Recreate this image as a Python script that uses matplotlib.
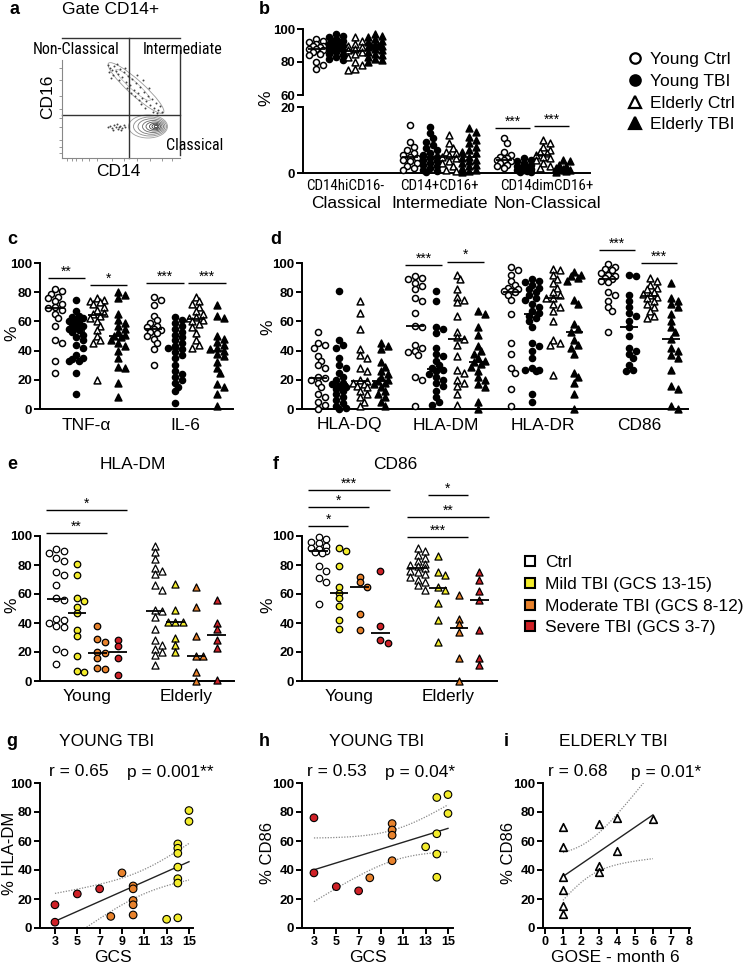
import numpy as np
import matplotlib
matplotlib.use("Agg")
import matplotlib.pyplot as plt
from matplotlib.patches import Ellipse
from matplotlib.lines import Line2D
from matplotlib import font_manager
from matplotlib.font_manager import FontProperties

plt.rcParams['font.family'] = ['Liberation Sans', 'DejaVu Sans']


def _find_condensed():
    prefs = [('liberation sans narrow', 12.5), ('arial narrow', 12.5), ('roboto condensed', 12.0),
             ('open sans condensed', 11.5), ('noto sans', 11.8), ('open sans', 11.5),
             ('roboto', 12.0), ('dejavu sans', 11.0)]
    best = None
    for f in font_manager.fontManager.ttflist:
        nm = f.name.lower()
        st = str(f.stretch).lower()
        is_cond = ('narrow' in nm or 'condensed' in nm or st in ('condensed', 'semi-condensed', '75', '87.5'))
        if not is_cond or f.style != 'normal':
            continue
        if str(f.weight) not in ('400', 'normal', 'regular', 'book'):
            continue
        fn = f.fname.lower()
        if 'bold' in fn or 'italic' in fn or 'light' in fn or 'medium' in fn or 'semi' in fn.split('/')[-1].replace('semicondensed', ''):
            continue
        for rank, (key, size) in enumerate(prefs):
            if nm.startswith(key):
                if best is None or rank < best[0]:
                    best = (rank, f.fname, size)
                break
    if best is None:
        return None, 9.6
    return best[1], best[2]


_cond_path, NARROW_SIZE = _find_condensed()


def narrow_fp(size):
    if _cond_path:
        return FontProperties(fname=_cond_path, size=size)
    return FontProperties(family='Liberation Sans', size=size * 0.78)


# ---------------- DATA ----------------
# panel a (illustrative flow plot, intensity units)
flow_cd14 = [46, 48, 50, 47, 52, 54, 56, 51, 58, 60, 57, 62, 64, 66, 68, 70, 65, 72, 74, 76, 78, 73, 80, 82,
             84, 79, 86, 88, 90, 92, 94, 96, 98, 100, 83, 77, 69, 63, 55, 49, 75, 87, 91, 95, 81,
             48, 50, 52, 54, 56, 58, 60, 62, 51, 55, 59, 46, 63, 57]
flow_cd16 = [93, 90, 88, 86, 92, 87, 84, 83, 89, 81, 78, 86, 76, 82, 73, 79, 70, 68, 75, 65, 71, 62, 60, 66,
             57, 54, 62, 53, 59, 50, 55, 48, 52, 46, 50, 58, 65, 90, 94, 80, 83, 70, 46, 45, 78,
             32, 30, 33, 31, 29, 32, 30, 33, 28, 34, 28, 31, 31, 31]
gate_cd14 = 67
gate_cd16 = 43
classical_cx = [86, 88, 89.5, 91, 92, 93, 93.5, 94]
classical_cy = 31.5
classical_w = [39, 33, 27, 21, 16, 11, 7, 3.5]
classical_h = [23, 19, 15.5, 12, 9, 6.5, 4.5, 2.5]

# panel b
b_groups = ["Classical", "Intermediate", "Non-Classical"]
b_markers = ["CD14hiCD16-", "CD14+CD16+", "CD14dimCD16+"]
series_names = ["Young Ctrl", "Young TBI", "Elderly Ctrl", "Elderly TBI"]
b_classical = [
    [94, 93, 92, 91, 90, 90, 89, 88, 88, 87, 86, 85, 84, 80, 78, 76],
    [97, 96, 95, 94, 93, 93, 92, 91, 91, 90, 90, 89, 89, 88, 88, 87, 86, 85, 84, 83, 82, 81],
    [95, 93, 91, 90, 89, 88, 87, 86, 85, 83, 80, 78, 76, 75],
    [97, 96, 95, 94, 93, 92, 91, 90, 90, 90, 89, 88, 87, 86, 85, 84, 83, 82, 81, 80],
]
b_intermediate = [
    [14.5, 9.5, 8, 7, 6, 5.5, 5, 4.5, 4, 3.5, 3, 2, 1.5, 1],
    [14, 12, 10.5, 9.5, 8.5, 7.5, 7, 6, 5.5, 5, 4.5, 4, 3.5, 3, 2.5, 2, 1.5, 1, 0.5, 0.3],
    [11.5, 9, 7.5, 6.5, 6, 5.5, 5, 4.5, 3.5, 3, 2, 1, 0.5],
    [13.5, 12.5, 11, 10, 9, 8, 7, 6.5, 6, 5, 4.5, 4, 3.5, 3, 2.5, 2, 1.5, 1, 0.5, 0.2],
]
b_nonclassical = [
    [10.5, 9, 6.5, 5.5, 5, 4.5, 4, 4, 3.5, 3, 2.5, 2, 1.5],
    [4.5, 4, 3.5, 3, 2.5, 2, 1.8, 1.5, 1.3, 1, 0.8, 0.6, 0.4, 0.2],
    [10, 9, 8, 7, 6.5, 6, 5.5, 5, 4.5, 4, 3, 2, 1.5],
    [4, 3.5, 2.5, 2, 1.5, 1.2, 1, 0.8, 0.5, 0.3],
]
b_sig = [(2, 0, 13.6, "***"), (2, 2, 14.2, "***")]  # (group, first series of pair, y, label)

# panel c
c_cats = ["TNF-α", "IL-6"]
c_tnf = [
    [82, 81, 79, 77, 76, 74, 72, 70, 69, 68, 65, 62, 57, 47, 45, 33, 25],
    [75, 67, 64, 63, 62, 61, 60, 59, 58, 57, 56, 55, 54, 53, 51, 49, 47, 44, 42, 37, 35, 34, 33, 33, 25, 10],
    [76, 75, 74, 73, 72, 70, 68, 66, 65, 64, 62, 60, 57, 54, 50, 47, 45, 20],
    [80, 78, 76, 65, 61, 59, 57, 55, 53, 51, 50, 49, 47, 45, 43, 40, 35, 29, 28, 18, 8],
]
c_il6 = [
    [77, 75, 71, 64, 61, 59, 57, 56, 55, 54, 53, 52, 50, 48, 45, 41, 30],
    [63, 61, 59, 57, 55, 53, 51, 49, 47, 45, 43, 42, 41, 39, 37, 35, 30, 26, 24, 22, 20, 18, 15, 12, 4],
    [77, 74, 72, 70, 67, 65, 63, 62, 61, 60, 58, 56, 52, 47, 44, 42],
    [71, 64, 62, 50, 48, 46, 44, 42, 41, 40, 38, 36, 32, 28, 25, 17, 15, 10, 2],
]
c_sig = [(0, 0, 90, "**"), (0, 2, 85, "*"), (1, 0, 86, "***"), (1, 2, 86, "***")]

# panel d
d_cats = ["HLA-DQ", "HLA-DM", "HLA-DR", "CD86"]
d_dq = [
    [53, 45, 44, 42, 36, 33, 30, 28, 22, 21, 20, 18, 15, 10, 8, 5, 3, 0],
    [81, 47, 44, 42, 35, 30, 28, 25, 22, 20, 18, 17, 16, 15, 14, 12, 10, 8, 6, 4, 2, 1, 0],
    [74, 66, 55, 41, 37, 35, 28, 26, 20, 19, 18, 17, 16, 15, 12, 10, 8, 5, 2],
    [45, 43, 41, 32, 29, 26, 24, 22, 20, 19, 18, 17, 15, 12, 10, 8, 5, 2],
]
d_dm = [
    [91, 90, 89, 86, 84, 82, 76, 74, 66, 57, 56, 44, 42, 40, 39, 37, 22, 20, 2],
    [81, 74, 56, 55, 52, 42, 38, 36, 33, 30, 28, 27, 26, 24, 22, 20, 18, 16, 12, 8, 5, 3],
    [92, 89, 82, 77, 75, 73, 64, 53, 49, 48, 44, 36, 27, 25, 20, 18, 16, 10, 3],
    [67, 65, 56, 51, 43, 40, 38, 35, 33, 32, 31, 29, 26, 22, 20, 17, 15, 5, 0],
]
d_dr = [
    [97, 95, 92, 88, 85, 83, 82, 81, 81, 80, 78, 75, 65, 45, 38, 28, 25, 14, 2],
    [89, 88, 87, 85, 83, 82, 80, 78, 76, 75, 72, 70, 67, 66, 64, 62, 60, 56, 45, 43, 40, 35, 28, 27, 27, 26, 10, 5],
    [96, 95, 92, 89, 86, 83, 80, 78, 76, 76, 72, 70, 67, 60, 47, 45, 44, 23],
    [94, 92, 91, 90, 88, 75, 72, 58, 55, 53, 47, 44, 42, 38, 25, 22, 18, 10, 0],
]
d_cd86 = [
    [99, 97, 96, 95, 93, 92, 91, 90, 89, 88, 87, 80, 78, 74, 70, 67, 53],
    [92, 91, 78, 74, 70, 66, 64, 60, 56, 50, 42, 40, 38, 35, 30, 27, 26],
    [90, 88, 85, 83, 82, 80, 79, 78, 77, 76, 74, 72, 70, 67, 64, 62],
    [86, 76, 74, 72, 70, 65, 60, 56, 53, 48, 42, 40, 37, 35, 27, 16, 14, 2, 0],
]
d_sig = [(1, 0, 98.6, "***"), (1, 2, 101, "*"), (3, 0, 109, "***"), (3, 2, 100, "***")]

# panels e, f  (order: Ctrl, Mild, Moderate, Severe)
sev_names = ["Ctrl", "Mild TBI (GCS 13-15)", "Moderate TBI (GCS 8-12)", "Severe TBI (GCS 3-7)"]
age_cats = ["Young", "Elderly"]
e_young = [
    [91, 90, 88, 85, 83, 75, 73, 66, 57, 56, 43, 42, 40, 38, 37, 22, 20, 12],
    [81, 73, 57, 55, 51, 47, 35, 31, 17, 7, 6],
    [38, 29, 27, 20, 19, 16, 9, 8],
    [28, 24, 16, 4],
]
e_elderly = [
    [93, 89, 84, 78, 76, 74, 66, 63, 49, 48, 44, 36, 28, 25, 22, 20, 18, 11],
    [67, 49, 41, 41, 41, 30, 25, 20],
    [65, 51, 31, 17, 17, 6, 0],
    [56, 40, 36, 28, 23, 1],
]
f_young = [
    [99, 98, 96, 95, 93, 92, 91, 90, 89, 88, 79, 76, 71, 68, 53],
    [92, 90, 79, 65, 61, 57, 52, 42, 36],
    [72, 68, 65, 46, 35],
    [76, 38, 28, 26],
]
f_elderly = [
    [92, 90, 87, 85, 83, 81, 80, 79, 78, 76, 75, 74, 72, 70, 68, 66, 63],
    [86, 75, 73, 65, 63, 54, 42, 27],
    [59, 43, 39, 34, 16, 0],
    [75, 70, 62, 56, 35, 16, 11],
]
# (age index, from group, to group, y, label)
e_sig = [(0, 0, 3, 118, "*"), (0, 0, 2, 102, "**")]
f_sig = [(0, 0, 3, 132, "***"), (0, 0, 2, 120, "*"), (0, 0, 1, 107, "*"),
         (1, 1, 2, 128, "*"), (1, 0, 3, 113, "**"), (1, 0, 2, 99, "***")]

# panels g, h, i
g_gcs = [3, 3, 5, 7, 8, 9, 10, 10, 10, 10, 10, 13, 14, 14, 14, 14, 14, 14, 14, 15, 15]
g_hladm = [16, 4, 23.5, 27, 8, 38, 29, 27, 19, 16, 9, 6, 58, 55, 51.5, 42, 34, 31, 7, 81, 73.5]
h_gcs = [3, 3, 5, 7, 8, 10, 10, 10, 10, 13, 14, 14, 14, 14, 15, 15]
h_cd86 = [76, 38, 28.5, 25.6, 34.6, 72, 67.6, 64, 46.4, 56, 90, 65, 51, 35, 92, 79]
i_gose = [1, 1, 1, 1, 1, 1, 3, 3, 3, 4, 4, 6]
i_cd86 = [70, 55.7, 35.3, 26.5, 15.2, 10, 72, 43, 38.8, 75.8, 53.3, 75.3]
T95 = {10: 2.228, 14: 2.145, 19: 2.093}

COL_CTRL = "white"
COL_MILD = "#F3EC2B"
COL_MOD = "#E8822C"
COL_SEV = "#CF2127"
sev_colors = [COL_CTRL, COL_MILD, COL_MOD, COL_SEV]

# ---------------- FIGURE ----------------
W, H = 744, 965
fig = plt.figure(figsize=(W / 100, H / 100), dpi=100)


def add_ax(x0, y0, x1, y1):
    return fig.add_axes([x0 / W, 1 - y1 / H, (x1 - x0) / W, (y1 - y0) / H])


def ftext(x, y, s, **kw):
    kw.setdefault('ha', 'center')
    kw.setdefault('va', 'center')
    return fig.text(x / W, 1 - y / H, s, **kw)


def style(ax, yticks=(0, 20, 40, 60, 80, 100), bottom=True):
    ax.spines['top'].set_visible(False)
    ax.spines['right'].set_visible(False)
    ax.spines['left'].set_linewidth(1.4)
    ax.spines['bottom'].set_linewidth(1.4)
    if not bottom:
        ax.spines['bottom'].set_visible(False)
    ax.set_yticks(list(yticks))
    ax.set_yticklabels([str(t) for t in yticks], fontweight='bold', fontsize=9.5)
    ax.tick_params(axis='y', direction='out', length=4, width=1.4, pad=1.5)
    ax.tick_params(axis='x', length=0)
    ax.set_xticks([])
    ax.patch.set_alpha(0)


def swarm_x(ax, xc, vals, d=7.0, sep=0.8, maxoff=9.0):
    vals = np.asarray(vals, float)
    pts = ax.transData.transform(np.column_stack([np.full(len(vals), xc), vals]))
    px0 = pts[0, 0]
    py = pts[:, 1]
    order = np.argsort(-vals, kind='stable')
    step = d * 0.5
    cands = [0.0]
    k = 1
    while k * step <= maxoff + 1e-9:
        cands += [k * step, -k * step]
        k += 1
    placed = []
    offs = np.zeros(len(vals))
    for i in order:
        chosen, best, bestd = None, 0.0, -1.0
        for c in cands:
            if placed:
                mind = min(np.hypot(c - ox, py[i] - oy) for ox, oy in placed)
            else:
                mind = np.inf
            if mind >= d * sep:
                chosen = c
                break
            if mind > bestd:
                bestd, best = mind, c
        if chosen is None:
            chosen = best
        offs[i] = chosen
        placed.append((chosen, py[i]))
    xs = ax.transData.inverted().transform(np.column_stack([px0 + offs, py]))[:, 0]
    return xs


def dots(ax, xc, vals, marker, fc, s, lw=1.0, half=0.42, d=7.0, maxoff=9.0):
    xs = swarm_x(ax, xc, vals, d=d, maxoff=maxoff)
    ax.scatter(xs, vals, marker=marker, s=s, facecolors=fc, edgecolors='black',
               linewidths=lw, zorder=3, clip_on=False)
    ax.plot([xc - half, xc + half], [np.median(vals)] * 2, color='black', lw=1.3, zorder=4,
            solid_capstyle='butt')


def sig(ax, x0, x1, y, txt, fs=10):
    ax.plot([x0, x1], [y, y], color='black', lw=1.0, clip_on=False, solid_capstyle='butt')
    ax.annotate(txt, xy=((x0 + x1) / 2, y), xytext=(0, -0.5), textcoords='offset points',
                ha='center', va='bottom', fontsize=fs, annotation_clip=False)


def cat_label(ax, x, txt, dy_px, **kw):
    if 'fontproperties' not in kw:
        kw.setdefault('fontsize', 12.5)
    ax.annotate(txt, xy=(x, 0), xycoords=('data', 'axes fraction'), xytext=(0, -dy_px * 0.72),
                textcoords='offset points', ha='center', va='center', annotation_clip=False, **kw)


SERIES_STYLE = [('o', 'white', 19), ('o', 'black', 19), ('^', 'white', 24), ('^', 'black', 24)]

# ---- panel a ----
ftext(14, 9, "a", fontweight='bold', fontsize=13)
ftext(111, 9, "Gate CD14+", fontsize=12.5)
axa = add_ax(62, 38, 180, 158)
axa.set_xlim(0, 118)
axa.set_ylim(0, 120)
axa.patch.set_alpha(0)
for s_ in ('top', 'right'):
    axa.spines[s_].set_visible(False)
for s_ in ('left', 'bottom'):
    axa.spines[s_].set_color('#888888')
    axa.spines[s_].set_linewidth(0.8)
axa.spines['left'].set_bounds(0, 98)
axa.set_xticks([5, 10, 14, 20, 27, 35, 50, 62, 75, 88, 100, 110])
axa.set_yticks([5, 11, 18, 31, 40, 49, 62, 78, 90])
axa.tick_params(length=2, width=0.6, color='#888888', labelbottom=False, labelleft=False)
for k, (cx, w, h) in enumerate(zip(classical_cx, classical_w, classical_h)):
    shade = 0.62 - 0.07 * k
    axa.add_patch(Ellipse((cx, classical_cy), w, h, fill=False, ec=str(max(shade, 0.1)), lw=0.6))
axa.add_patch(Ellipse((74, 70), 74, 15, angle=-42, fill=False, ec='#9a9a9a', lw=0.6))
axa.add_patch(Ellipse((71, 73), 46, 8, angle=-42, fill=False, ec='#b0b0b0', lw=0.5))
axa.scatter(flow_cd14, flow_cd16, s=2, c='#444444', lw=0)
kl = dict(color='#333333', lw=1.0, clip_on=False)
axa.plot([gate_cd14, gate_cd14], [0, 120], **kl)
axa.plot([0, 118], [gate_cd16, gate_cd16], **kl)
axa.plot([0, 118], [120, 120], **kl)
axa.plot([118, 118], [3, 108], **kl)
a_fp = narrow_fp(NARROW_SIZE - 0.5)
ftext(76, 50, "Non-Classical", fontproperties=a_fp)
ftext(183, 50, "Intermediate", fontproperties=a_fp)
ftext(195, 146, "Classical", fontproperties=a_fp)
ftext(48, 97, "CD16", fontsize=12.5, rotation=90)
ftext(118, 172, "CD14", fontsize=12.5)

# ---- panel b ----
ftext(264, 9, "b", fontweight='bold', fontsize=13)
b_pos = [0, 4.8, 9.6]
b_label_shift = [0, 0, 0.7]
axu = add_ax(303, 29, 590, 95)
axl = add_ax(303, 107, 590, 173)
for ax_ in (axu, axl):
    ax_.set_xlim(-0.68, 14.0)
axu.set_ylim(60, 100)
axl.set_ylim(0, 20)
style(axu, (60, 80, 100), bottom=False)
style(axl, (0, 20))
for j, (m, fc, s) in enumerate(SERIES_STYLE):
    dots(axu, b_pos[0] + j, b_classical[j], m, fc, s, lw=1.1)
    dots(axl, b_pos[1] + j, b_intermediate[j], m, fc, s, lw=1.1)
    dots(axl, b_pos[2] + j, b_nonclassical[j], m, fc, s, lw=1.1)
for gi, pj, y, t in b_sig:
    sig(axl, b_pos[gi] + pj - 0.45, b_pos[gi] + pj + 1 + 0.35, y, t)
b_fp = narrow_fp(NARROW_SIZE * 0.9)
for gi in range(3):
    cx = b_pos[gi] + 1.5 + b_label_shift[gi]
    cat_label(axl, cx, b_markers[gi], 13, fontproperties=b_fp)
    cat_label(axl, cx, b_groups[gi], 30)
ftext(266, 98, "%", fontsize=12.5, rotation=90)
handles = [Line2D([], [], ls='none', marker=m, markersize=7.5 if m == 'o' else 8.5,
                  markerfacecolor=fc, markeredgecolor='black', markeredgewidth=1.6)
           for (m, fc, s) in SERIES_STYLE]
fig.legend(handles, series_names, loc='upper left', bbox_to_anchor=(627 / W, 1 - 52 / H),
           frameon=False, fontsize=12.5, handlelength=0.9, handletextpad=0.4,
           labelspacing=0.38, borderaxespad=0, borderpad=0)

# ---- panel c ----
ftext(12, 240, "c", fontweight='bold', fontsize=13)
c_pos = [0, 4.7]
axc = add_ax(40, 263, 233, 409)
axc.set_xlim(-0.71, 8.48)
axc.set_ylim(0, 100)
style(axc)
for gi, gdata in enumerate([c_tnf, c_il6]):
    for j, (m, fc, s) in enumerate(SERIES_STYLE):
        dots(axc, c_pos[gi] + j, gdata[j], m, fc, s, lw=1.1)
    cat_label(axc, c_pos[gi] + 1.5, c_cats[gi], 16)
for gi, pj, y, t in c_sig:
    sig(axc, c_pos[gi] + pj - 0.35, c_pos[gi] + pj + 1 + 0.45, y, t)
ftext(12, 333, "%", fontsize=12.5, rotation=90)

# ---- panel d ----
ftext(276, 240, "d", fontweight='bold', fontsize=13)
d_pos = [0, 4.6, 9.2, 13.8]
axd = add_ax(302, 263, 688, 409)
axd.set_xlim(-0.76, 17.6)
axd.set_ylim(0, 100)
style(axd)
for gi, gdata in enumerate([d_dq, d_dm, d_dr, d_cd86]):
    for j, (m, fc, s) in enumerate(SERIES_STYLE):
        dots(axd, d_pos[gi] + j, gdata[j], m, fc, s, lw=1.1)
    cat_label(axd, d_pos[gi] + 1.5, d_cats[gi], 16)
for gi, pj, y, t in d_sig:
    sig(axd, d_pos[gi] + pj - 0.45, d_pos[gi] + pj + 1 + 0.3, y, t)
ftext(268, 327, "%", fontsize=12.5, rotation=90)

# ---- panels e, f ----
ef_pos = [0, 4.8]
panels_ef = [
    ("e", 12, 133, "HLA-DM", (40, 536, 234, 681), [e_young, e_elderly], e_sig, 12),
    ("f", 276, 395, "CD86", (302, 536, 497, 681), [f_young, f_elderly], f_sig, 268),
]
for letter, lx, tx, title, box, datas, sigs, plx in panels_ef:
    ftext(lx, 465, letter, fontweight='bold', fontsize=13)
    ftext(tx, 465, title, fontsize=12.5)
    ax = add_ax(*box)
    ax.set_xlim(-0.8, 8.65)
    ax.set_ylim(0, 100)
    style(ax)
    for ai, gdata in enumerate(datas):
        m = 'o' if ai == 0 else '^'
        s = 22 if ai == 0 else 26
        for j in range(4):
            dots(ax, ef_pos[ai] + j, gdata[j], m, sev_colors[j], s, lw=0.9, half=0.45,
                 d=7.2, maxoff=8.0)
        cat_label(ax, ef_pos[ai] + 1.5, age_cats[ai], 16)
    for ai, a, b_, y, t in sigs:
        sig(ax, ef_pos[ai] + a - 0.5, ef_pos[ai] + b_ + 0.45, y, t)
    ftext(plx, 605, "%", fontsize=12.5, rotation=90)

sq_handles = [Line2D([], [], ls='none', marker='s', markersize=6.5, markerfacecolor=c,
                     markeredgecolor='black', markeredgewidth=1.5) for c in sev_colors]
fig.legend(sq_handles, sev_names, loc='upper left', bbox_to_anchor=(522 / W, 1 - 555 / H),
           frameon=False, fontsize=12.5, handlelength=0.9, handletextpad=0.45,
           labelspacing=0.38, borderaxespad=0, borderpad=0)


# ---- panels g, h, i ----
def sev_color(g):
    if g <= 7:
        return COL_SEV
    if g <= 12:
        return COL_MOD
    return COL_MILD


def regression(ax, x, y):
    x = np.asarray(x, float)
    y = np.asarray(y, float)
    n = len(x)
    slope, icpt = np.polyfit(x, y, 1)
    xx = np.linspace(x.min(), x.max(), 120)
    yy = icpt + slope * xx
    resid = y - (icpt + slope * x)
    s = np.sqrt(np.sum(resid ** 2) / (n - 2))
    sxx = np.sum((x - x.mean()) ** 2)
    se = s * np.sqrt(1 / n + (xx - x.mean()) ** 2 / sxx)
    t = T95[n - 2]
    ax.plot(xx, yy, color='#222222', lw=1.0, zorder=2)
    ax.plot(xx, yy + t * se, color='#888888', lw=0.9, ls=(0, (1, 1.2)), zorder=2)
    ax.plot(xx, yy - t * se, color='#888888', lw=0.9, ls=(0, (1, 1.2)), zorder=2)


scatter_panels = [
    ("g", 12, 107, "YOUNG TBI", (40, 783, 193, 928), (1.66, 15.36), list(range(3, 16, 2)),
     g_gcs, g_hladm, "circle", "% HLA-DM", 10, "GCS", 113,
     ("r = 0.65", 79), ("p = 0.001**", 170)),
    ("h", 264, 377, "YOUNG TBI", (302, 783, 453, 928), (1.93, 15.45), list(range(3, 16, 2)),
     h_gcs, h_cd86, "circle", "% CD86", 267, "GCS", 368,
     ("r = 0.53", 337), ("p = 0.04*", 420)),
    ("i", 506, 613, "ELDERLY TBI", (543, 783, 690, 928), (-0.11, 8.06), list(range(0, 9)),
     i_gose, i_cd86, "triangle", "% CD86", 509, "GOSE - month 6", 615,
     ("r = 0.68", 578), ("p = 0.01*", 666)),
]
for (letter, lx, tx, title, box, xlim, xt, xv, yv, kind, ylab, ylx, xlab, xlx, rt, pt) in scatter_panels:
    ftext(lx, 742, letter, fontweight='bold', fontsize=13)
    ftext(tx, 742, title, fontsize=12.5)
    ftext(rt[1], 772, rt[0], fontsize=12.5)
    ftext(pt[1], 772, pt[0], fontsize=12.5)
    ax = add_ax(*box)
    ax.set_xlim(*xlim)
    ax.set_ylim(0, 100)
    style(ax)
    ax.set_xticks(xt)
    ax.set_xticklabels([str(v) for v in xt], fontweight='bold', fontsize=9)
    ax.tick_params(axis='x', direction='out', length=4, width=1.4, pad=1.5)
    regression(ax, xv, yv)
    if kind == "circle":
        ax.scatter(xv, yv, s=30, c=[sev_color(g) for g in xv], edgecolors='black',
                   linewidths=0.8, zorder=3, clip_on=False)
    else:
        ax.scatter(xv, yv, marker='^', s=30, facecolors='white', edgecolors='black',
                   linewidths=1.2, zorder=3, clip_on=False)
    ftext(ylx, 853, ylab, fontsize=12, rotation=90)
    ftext(xlx, 958, xlab, fontsize=12.5)

fig.savefig("out.png", dpi=100)
